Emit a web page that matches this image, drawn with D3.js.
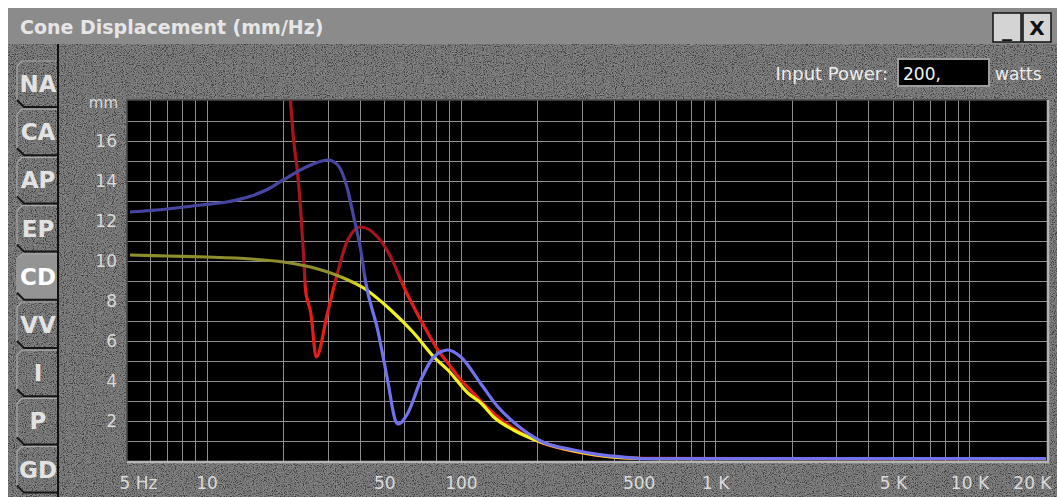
<!DOCTYPE html>
<html>
<head>
<meta charset="utf-8">
<script src="https://cdn.jsdelivr.net/npm/d3@7"></script>
<style>
  body { margin: 0; background: #fff; }
  text { font-family: "DejaVu Sans", Verdana, sans-serif; }
</style>
</head>
<body>
<svg width="1057" height="497"></svg>
<script>
// Curves as [Hz, mm]
var redCurve = [[20, 23], [21.4, 17.95], [22.0, 16.05], [22.8, 14.4], [23.4, 12.7], [24.1, 10.2],
  [24.5, 8.55], [25.7, 7.4], [27.0, 5.2], [29.9, 7.4], [32.2, 9.05], [35.9, 11.05], [40.4, 11.7],
  [47.1, 11.2], [53.0, 10.2], [59.7, 8.7], [65.3, 7.7], [74.2, 6.4], [81.2, 5.55], [88.9, 4.9],
  [100, 4.05], [109, 3.55], [125, 2.75], [150, 1.9], [200, 1.0], [300, 0.4], [500, 0.13], [20000, 0.12]];

var yellowCurve = [[5, 10.3], [7, 10.25], [10, 10.2], [15, 10.1], [20, 9.95], [27.4, 9.6],
  [34.6, 9.15], [41.5, 8.65], [53, 7.55], [65.3, 6.4], [78.3, 5.2], [88.9, 4.55], [106.5, 3.4],
  [120, 2.9], [134.6, 2.2], [161, 1.55], [206, 0.95], [278, 0.5], [350, 0.28], [450, 0.15],
  [600, 0.12], [20000, 0.12]];

var blueCurve = [[5, 12.45], [7, 12.6], [9.5, 12.8], [12, 12.95], [15, 13.25], [17.5, 13.6],
  [20, 14.05], [25.7, 14.8], [30, 15.05], [32.8, 14.8], [35.9, 13.55], [37.9, 12.2], [40.4, 10.55],
  [42.3, 8.9], [47.1, 6.55], [51.5, 4.05], [55.4, 2.0], [56.8, 1.85], [61.9, 2.4], [69.6, 4.05],
  [78.3, 5.2], [88.9, 5.55], [100, 5.2], [120, 3.85], [140, 2.7], [161, 1.95], [206, 1.0],
  [278, 0.55], [350, 0.32], [450, 0.18], [520, 0.12], [20000, 0.12]];

// Axis labels
var xTicks = [5, 10, 50, 100, 500, 1000, 5000, 10000, 20000];
var xLabels = ["5 Hz", "10", "50", "100", "500", "1 K", "5 K", "10 K", "20 K"];
var yTicks = [2, 4, 6, 8, 10, 12, 14, 16];
var tabs = ["NA", "CA", "AP", "EP", "CD", "VV", "I", "P", "GD"];
var selectedTab = "CD";
var inputPower = "200,";

var svg = d3.select("svg"),
    width = +svg.attr("width"),
    height = +svg.attr("height");

var defs = svg.append("defs");

// granite-ish texture for the panel
var noise = defs.append("filter").attr("id", "noise")
  .attr("filterUnits", "userSpaceOnUse").attr("x", 0).attr("y", 0).attr("width", width).attr("height", height);
noise.append("feTurbulence").attr("type", "fractalNoise").attr("baseFrequency", 0.9).attr("numOctaves", 3).attr("seed", 7);
noise.append("feColorMatrix").attr("type", "matrix")
  .attr("values", "1.4 1.4 1.4 0 -1.7  1.4 1.4 1.4 0 -1.7  1.4 1.4 1.4 0 -1.7  0 0 0 0 1");
noise.append("feComposite").attr("in2", "SourceGraphic").attr("operator", "in");

// window body
svg.append("rect").attr("x", 8).attr("y", 8).attr("width", width - 8).attr("height", height - 8).attr("fill", "#5e5e5e");
svg.append("rect").attr("x", 8).attr("y", 44).attr("width", width - 8).attr("height", height - 44)
  .attr("fill", "#fff").attr("filter", "url(#noise)").attr("opacity", 0.3);

// title bar
svg.append("rect").attr("x", 8).attr("y", 8).attr("width", width - 8).attr("height", 36).attr("fill", "#8b8b8b");
svg.append("text").attr("x", 20).attr("y", 34)
  .attr("font-size", 19).attr("font-weight", "bold").attr("fill", "#e6e6e6")
  .text("Cone Displacement (mm/Hz)");

// minimise / close boxes
var winBtns = [{ x: 993, label: "_" }, { x: 1023, label: "X" }];
var wb = svg.append("g").selectAll("g").data(winBtns).enter().append("g");
wb.append("rect").attr("x", function(d){ return d.x }).attr("y", 13).attr("width", 28).attr("height", 29)
  .attr("fill", "#d4d4d4").attr("stroke", "#111").attr("stroke-width", 1.5);
wb.append("text").attr("x", function(d){ return d.x + 14 }).attr("y", function(d){ return d.label == "X" ? 35 : 36 })
  .attr("text-anchor", "middle").attr("font-size", 20).attr("font-weight", "bold").attr("fill", "#111")
  .attr("font-family", "Liberation Sans, Arial, sans-serif")
  .text(function(d){ return d.label });

// left tab strip
svg.append("line").attr("x1", 58).attr("x2", 58).attr("y1", 44).attr("y2", height)
  .attr("stroke", "#111").attr("stroke-width", 2);

var tabG = svg.append("g").selectAll("g").data(tabs).enter().append("g")
  .attr("transform", function(d, i){ return "translate(0," + (61 + i * 48.2) + ")" });

tabG.filter(function(d){ return d == selectedTab }).append("path")
  .attr("d", "M57,0 L26,0 Q18,0 18,8 L18,46 L57,46 Z")
  .attr("fill", "#949494");
tabG.append("path")
  .attr("d", "M17,39 L17,5 L22,0 L57,0")
  .attr("fill", "none").attr("stroke", "#a9a9a9").attr("stroke-width", 1.2);
tabG.append("path")
  .attr("d", "M17,39 L24,46 L57,46")
  .attr("fill", "none").attr("stroke", "#161616").attr("stroke-width", 2);
tabG.append("text")
  .attr("x", 38).attr("y", 31).attr("text-anchor", "middle")
  .attr("font-family", "DejaVu Sans Mono, monospace").attr("font-weight", "bold").attr("font-size", 23)
  .attr("fill", function(d){ return d == selectedTab ? "#ffffff" : "#e2e2e2" })
  .text(function(d){ return d });

// input power box
svg.append("text").attr("x", 888).attr("y", 80).attr("text-anchor", "end")
  .attr("font-size", 18).attr("fill", "#ececec").text("Input Power:");
svg.append("rect").attr("x", 898).attr("y", 59).attr("width", 91).attr("height", 27)
  .attr("fill", "#000").attr("stroke", "#9c9c9c").attr("stroke-width", 2);
svg.append("text").attr("x", 903).attr("y", 80)
  .attr("font-size", 17).attr("fill", "#f4f4f4").text(inputPower);
svg.append("text").attr("x", 995).attr("y", 80)
  .attr("font-size", 17).attr("fill", "#ececec").text("watts");

// Scales
var x = d3.scaleLog().domain([5, 20000]).range([130, 1046]);
var y = d3.scaleLinear().domain([0, 18]).range([461, 101]);

// plot area
var plotL = 127, plotR = 1048, plotT = 100, plotB = 462;
svg.append("rect").attr("x", plotL).attr("y", plotT).attr("width", plotR - plotL).attr("height", plotB - plotT)
  .attr("fill", "#000");

defs.append("clipPath").attr("id", "plotClip").append("rect")
  .attr("x", plotL).attr("y", plotT).attr("width", plotR - plotL).attr("height", plotB - plotT - 1);

// grid
var grid = svg.append("g").attr("stroke", "#8e8e8e").attr("stroke-width", 1);
grid.selectAll("line.v")
  .data(x.ticks().filter(function(d){ return d > 5 && d <= 10000 }))
  .enter().append("line").attr("class", "v")
    .attr("x1", function(d){ return Math.round(x(d)) + 0.5 })
    .attr("x2", function(d){ return Math.round(x(d)) + 0.5 })
    .attr("y1", plotT).attr("y2", plotB);
grid.selectAll("line.h")
  .data(y.ticks(18).filter(function(d){ return d > 0 && d < 18 }))
  .enter().append("line").attr("class", "h")
    .attr("x1", plotL).attr("x2", plotR)
    .attr("y1", function(d){ return Math.round(y(d)) + 0.5 })
    .attr("y2", function(d){ return Math.round(y(d)) + 0.5 });

// plot bevel
svg.append("path").attr("d", "M" + plotL + "," + plotB + " L" + plotL + "," + plotT + " L" + plotR + "," + plotT)
  .attr("fill", "none").attr("stroke", "#4a4a4a").attr("stroke-width", 1.5);
svg.append("path").attr("d", "M" + plotL + "," + plotB + " L" + plotR + "," + plotB + " L" + plotR + "," + plotT)
  .attr("fill", "none").attr("stroke", "#b4b4b4").attr("stroke-width", 2.5);

// curves: dimmer where they sit above ~9 mm
var series = [
  { id: "red", data: redCurve, dim: "#a8141c", bright: "#e41c1c" },
  { id: "yellow", data: yellowCurve, dim: "#8e8e2c", bright: "#f2f220" },
  { id: "blue", data: blueCurve, dim: "#4646a2", bright: "#7272ee" }
];

series.forEach(function(s) {
  var g = defs.append("linearGradient").attr("id", "grad-" + s.id)
    .attr("gradientUnits", "userSpaceOnUse")
    .attr("x1", 0).attr("x2", 0).attr("y1", y(9.4)).attr("y2", y(8.6));
  g.append("stop").attr("offset", 0).attr("stop-color", s.dim);
  g.append("stop").attr("offset", 1).attr("stop-color", s.bright);
});

var line = d3.line()
  .x(function(d){ return x(d[0]) })
  .y(function(d){ return y(d[1]) })
  .curve(d3.curveMonotoneX);

svg.append("g").attr("clip-path", "url(#plotClip)")
  .selectAll("path")
  .data(series)
  .enter().append("path")
    .attr("d", function(d){ return line(d.data) })
    .attr("fill", "none")
    .attr("stroke", function(d){ return "url(#grad-" + d.id + ")" })
    .attr("stroke-width", 3.2)
    .attr("stroke-linejoin", "round");

// axes
var yAxis = svg.append("g").attr("transform", "translate(" + plotL + ",0)")
  .call(d3.axisLeft(y).tickValues(yTicks).tickSize(0).tickPadding(10));
var xAxis = svg.append("g").attr("transform", "translate(0," + plotB + ")")
  .call(d3.axisBottom(x).tickValues(xTicks).tickSize(0).tickPadding(15)
    .tickFormat(function(d, i){ return xLabels[i] }));

[yAxis, xAxis].forEach(function(a) {
  a.select(".domain").remove();
  a.selectAll("text").attr("font-family", "DejaVu Sans, Verdana, sans-serif")
    .attr("font-size", 17).attr("fill", "#dadada");
});
xAxis.selectAll(".tick").filter(function(d){ return d == 5 }).select("text")
  .attr("text-anchor", "start").attr("dx", -11);
xAxis.selectAll(".tick").filter(function(d){ return d == 20000 }).select("text")
  .attr("text-anchor", "end").attr("dx", 5);

svg.append("text").attr("x", 118).attr("y", 108).attr("text-anchor", "end")
  .attr("font-size", 15).attr("fill", "#dadada").text("mm");
</script>
</body>
</html>
